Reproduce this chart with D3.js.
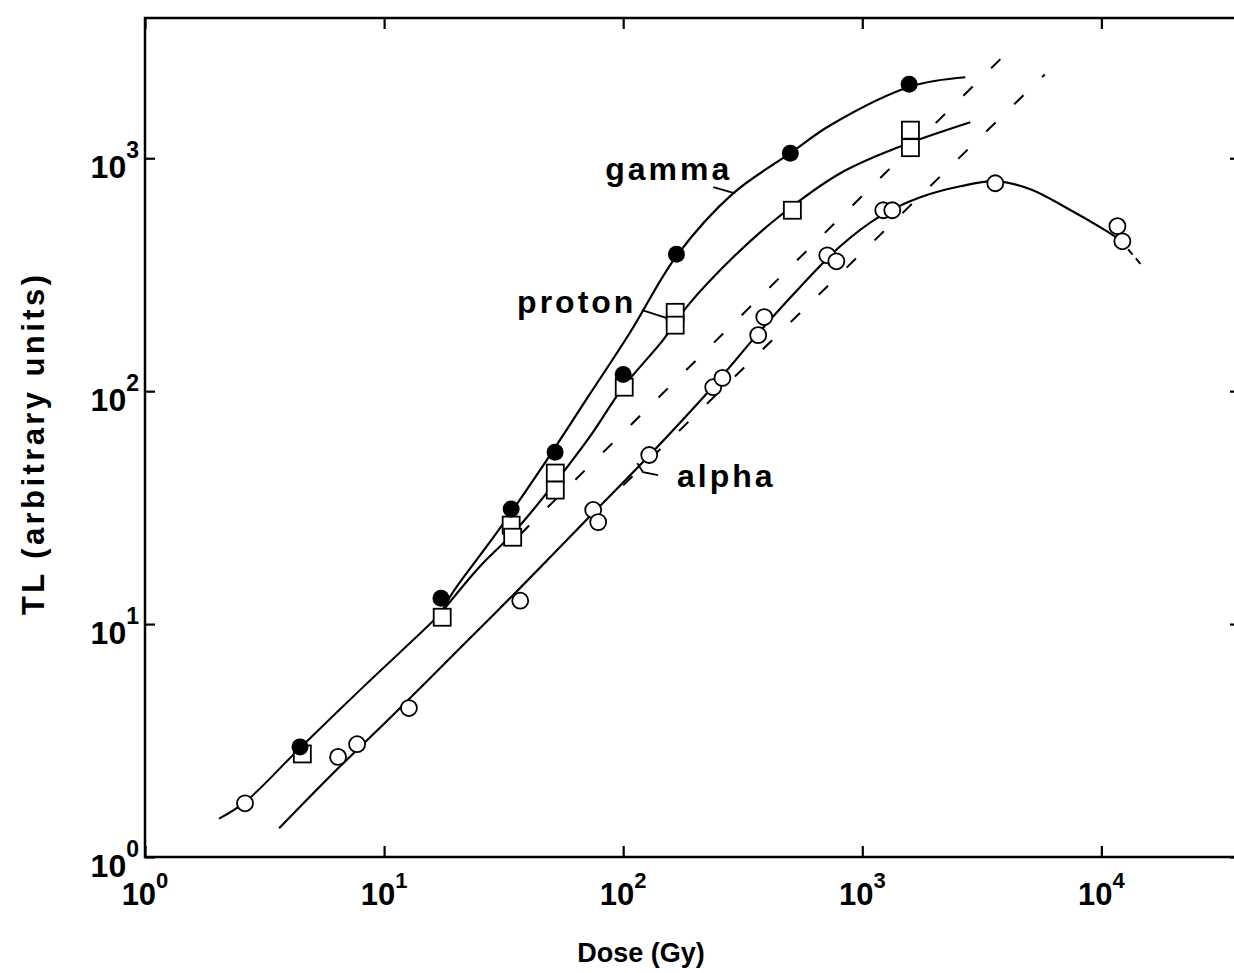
<!DOCTYPE html>
<html>
<head>
<meta charset="utf-8">
<script src="https://cdn.jsdelivr.net/npm/d3@7/dist/d3.min.js"></script>
<style>
  html, body { margin: 0; padding: 0; background: #fff; }
  svg { display: block; }
  text { font-family: "Liberation Sans", Arial, Helvetica, sans-serif; font-weight: bold; fill: #000; }
</style>
</head>
<body>
<svg id="chart" width="1234" height="973"></svg>
<script>
// ---- axes ----
const xDomain = [1, 38000];
const yDomain = [1, 4000];
const xTickValues = [1, 10, 100, 1000, 10000];
const xTickExponents = ["0", "1", "2", "3", "4"];
const yTickValues = [1, 10, 100, 1000];
const yTickExponents = ["0", "1", "2", "3"];
const xTitle = "Dose (Gy)";
const yTitle = "TL (arbitrary units)";

// ---- measured points ----
const gammaDose = [4.45, 17.3, 34.0, 51.9, 100, 167, 500, 1570];
const gammaTL   = [2.97, 12.9, 31.2, 54.7, 118, 387, 1050, 2080];

const protonDose = [4.55, 17.5, 34.0, 34.5, 52.0, 52.0, 101, 165, 165, 510, 1590, 1590];
const protonTL   = [2.77, 10.7, 26.6, 23.6, 44.5, 37.6, 104, 218, 192, 598, 1320, 1110];

const alphaDose = [2.62, 6.42, 7.71, 12.7, 37.1, 74.9, 78.6, 128.5, 238, 260, 367, 389, 714, 779, 1224, 1335, 3600, 11670, 12240];
const alphaTL   = [1.70, 2.69, 3.05, 4.36, 12.6, 30.9, 27.4, 53.2, 104, 114, 174, 208, 383, 361, 598, 598, 781, 511, 440];

// ---- fitted response curves (dose, TL) ----
const lowDoseFit = [[2.04, 1.46], [2.62, 1.72], [4.45, 2.94], [8.33, 5.47], [15.1, 9.71], [17.3, 11.15]];
const gammaFit = [[19.4, 13.7], [29.7, 24.8], [44.9, 45.8], [70.7, 93.3], [107, 179], [167, 380],
                  [289, 708], [500, 1051], [735, 1386], [1603, 2037], [2698, 2227]];
const protonFit = [[25.2, 17.7], [34.7, 24.6], [50.9, 39.5], [72.8, 64.1], [100, 104], [147, 166],
                   [187, 234], [294, 383], [445, 558], [809, 862], [1415, 1115], [2830, 1427]];
const alphaFit = [[3.64, 1.33], [6.12, 2.29], [10.9, 4.07], [20.8, 7.89], [37.1, 14.3], [68.0, 27.1],
                  [121, 49.6], [238, 105], [374, 181], [550, 280], [809, 419], [1189, 564],
                  [1748, 680], [2570, 758], [3602, 797], [5046, 736], [7070, 616], [10196, 496],
                  [12010, 445]];
const alphaTail = [[12010, 445], [14843, 344]];

// linear-response extrapolations
const linearLow   = [[37.0, 24.2], [4285, 3025]];
const linearAlpha = [[100, 39.4], [5800, 2290]];

// ---- curve labels ----
const curveLabels = ["gamma", "proton", "alpha"];
const curveLabelAt = [[84.1, 805], [36.0, 216], [168, 38.7]];
const leaderLines = [
  [[238, 751], [294, 707]],
  [[120, 223], [162, 202]],
  [[140, 43.6], [121, 44.9], [114.5, 49.1]]
];

const svg = d3.select("#chart");
const x = d3.scaleLog().domain(xDomain).range([145, 1240]);
const y = d3.scaleLog().domain(yDomain).range([857, 18]);

// frame
svg.append("rect")
  .attr("x", x(xDomain[0])).attr("y", y(yDomain[1]))
  .attr("width", x(xDomain[1]) - x(xDomain[0]))
  .attr("height", y(yDomain[0]) - y(yDomain[1]))
  .attr("fill", "none").attr("stroke", "#000").attr("stroke-width", 2.5);

// inward decade ticks on all four sides
function styleAxis(g) {
  g.select(".domain").remove();
  g.selectAll(".tick line").attr("stroke", "#000").attr("stroke-width", 2.2);
  g.selectAll(".tick text").remove();
}
svg.append("g").attr("transform", `translate(0,${y(yDomain[0])})`)
  .call(d3.axisBottom(x).tickValues(xTickValues).tickSize(-11).tickFormat(""))
  .call(styleAxis);
svg.append("g").attr("transform", `translate(0,${y(yDomain[1])})`)
  .call(d3.axisTop(x).tickValues(xTickValues).tickSize(-11).tickFormat(""))
  .call(styleAxis);
svg.append("g").attr("transform", `translate(${x(xDomain[0])},0)`)
  .call(d3.axisLeft(y).tickValues(yTickValues).tickSize(-10).tickFormat(""))
  .call(styleAxis);
svg.append("g").attr("transform", `translate(${x(xDomain[1])},0)`)
  .call(d3.axisRight(y).tickValues(yTickValues).tickSize(-10).tickFormat(""))
  .call(styleAxis);

// tick labels as 10 with a raised exponent
xTickValues.forEach((v, i) => {
  const t = svg.append("text")
    .attr("x", x(v)).attr("y", y(yDomain[0]) + 48)
    .attr("text-anchor", "middle").attr("font-size", 31);
  t.append("tspan").text("10");
  t.append("tspan").attr("font-size", 22).attr("dy", -17).text(xTickExponents[i]);
});
yTickValues.forEach((v, i) => {
  const t = svg.append("text")
    .attr("x", x(xDomain[0]) - 6).attr("y", y(v) + 20)
    .attr("text-anchor", "end").attr("font-size", 32);
  t.append("tspan").text("10");
  t.append("tspan").attr("font-size", 23).attr("dy", -20).text(yTickExponents[i]);
});

// axis titles
svg.append("text")
  .attr("x", 641).attr("y", 962)
  .attr("text-anchor", "middle").attr("font-size", 27)
  .text(xTitle);
svg.append("text")
  .attr("transform", "translate(44,445) rotate(-90)")
  .attr("text-anchor", "middle").attr("font-size", 31)
  .attr("textLength", 340).attr("lengthAdjust", "spacing")
  .text(yTitle);

// curves
const smooth = d3.line().x(d => x(d[0])).y(d => y(d[1])).curve(d3.curveCatmullRom.alpha(0.5));
const straight = d3.line().x(d => x(d[0])).y(d => y(d[1]));
const curves = svg.append("g").attr("fill", "none").attr("stroke", "#000");

curves.append("path").attr("d", smooth(lowDoseFit)).attr("stroke-width", 2);
curves.append("path").attr("d", smooth([lowDoseFit[lowDoseFit.length - 1], ...gammaFit])).attr("stroke-width", 2.2);
curves.append("path").attr("d", smooth([lowDoseFit[lowDoseFit.length - 1], ...protonFit])).attr("stroke-width", 2.2);
curves.append("path").attr("d", smooth(alphaFit)).attr("stroke-width", 2.2);
curves.append("path").attr("d", straight(alphaTail)).attr("stroke-width", 2).attr("stroke-dasharray", "7,5");
curves.append("path").attr("d", straight(linearLow)).attr("stroke-width", 2).attr("stroke-dasharray", "13,26");
curves.append("path").attr("d", straight(linearAlpha)).attr("stroke-width", 2).attr("stroke-dasharray", "13,26");

// leader lines from labels
leaderLines.forEach(pts => {
  curves.append("path").attr("d", straight(pts)).attr("stroke-width", 1.8);
});

// markers
const markers = svg.append("g");
const sq = 17;
markers.selectAll("rect.proton")
  .data(d3.zip(protonDose, protonTL)).join("rect")
  .attr("class", "proton")
  .attr("x", d => x(d[0]) - sq / 2).attr("y", d => y(d[1]) - sq / 2)
  .attr("width", sq).attr("height", sq)
  .attr("fill", "#fff").attr("stroke", "#000").attr("stroke-width", 1.8);
markers.selectAll("circle.alpha")
  .data(d3.zip(alphaDose, alphaTL)).join("circle")
  .attr("class", "alpha")
  .attr("cx", d => x(d[0])).attr("cy", d => y(d[1])).attr("r", 8)
  .attr("fill", "#fff").attr("stroke", "#000").attr("stroke-width", 1.8);
markers.selectAll("circle.gamma")
  .data(d3.zip(gammaDose, gammaTL)).join("circle")
  .attr("class", "gamma")
  .attr("cx", d => x(d[0])).attr("cy", d => y(d[1])).attr("r", 8.5)
  .attr("fill", "#000");

// curve labels
curveLabels.forEach((name, i) => {
  svg.append("text")
    .attr("x", x(curveLabelAt[i][0])).attr("y", y(curveLabelAt[i][1]))
    .attr("font-size", 32).attr("letter-spacing", 3)
    .text(name);
});
</script>
</body>
</html>
